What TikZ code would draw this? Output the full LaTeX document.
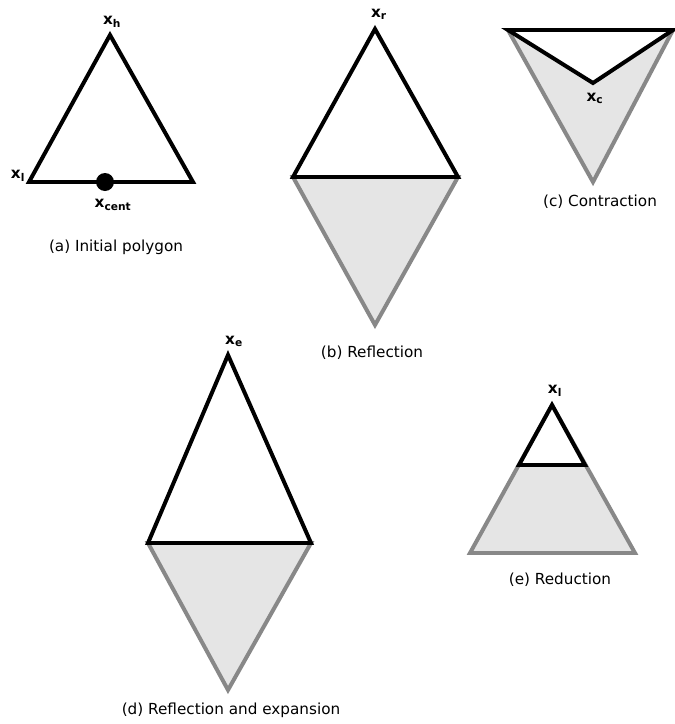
\documentclass[tikz,border=0pt]{standalone}
\usepackage{fontspec}
\setmainfont{DejaVu Sans}
\usetikzlibrary{positioning}

\definecolor{shade}{RGB}{229,229,229}
\definecolor{edgegray}{RGB}{136,136,136}

\tikzset{
  simplex/.style={draw=black,fill=white,line width=3.4pt,line join=miter},
  oldsimplex/.style={draw=edgegray,fill=shade,line width=3.4pt,line join=miter},
  vlabel/.style={font=\fontsize{13}{14}\selectfont\bfseries,inner sep=1pt},
  caption/.style={font=\fontsize{13}{15}\selectfont}
}
\newcommand{\vx}[1]{x\textsubscript{#1}}

\begin{document}
\begin{tikzpicture}[x=0.03cm,y=-0.03cm]
\useasboundingbox (0,0) rectangle (675,724);

% (a) initial polygon
\draw[simplex] (110,35) -- (29,182) -- (193,182) -- cycle;
\fill[black] (105,182) circle (9);
\node[vlabel] (xh) at (112,22) {\vx{h}};
\node[vlabel] (xl) at (18,176) {\vx{l}};
\node[vlabel] (xcent) at (113,205) {\vx{cent}};
\node[caption] (capa) at (116,247) {(a) Initial polygon};

% (b) reflection
\draw[oldsimplex] (293,177) -- (458,177) -- (375,325) -- cycle;
\draw[simplex] (375,29) -- (293,177) -- (458,177) -- cycle;
\node[vlabel] (xr) at (379,14) {\vx{r}};
\node[caption] (capb) at (372,353) {(b) Reflection};

% (c) contraction
\draw[oldsimplex] (508,30) -- (673,30) -- (593,182) -- cycle;
\draw[simplex] (508,30) -- (673,30) -- (593,83) -- cycle;
\node[vlabel] (xc) at (595,98) {\vx{c}};
\node[caption] (capc) at (600,202) {(c) Contraction};

% (d) reflection and expansion
\draw[oldsimplex] (148,543) -- (311,543) -- (228,690) -- cycle;
\draw[simplex] (228,355) -- (148,543) -- (311,543) -- cycle;
\node[vlabel] (xe) at (234,341) {\vx{e}};
\node[caption] (capd) at (231,710) {(d) Reflection and expansion};

% (e) reduction
\draw[oldsimplex] (552,405) -- (470,553) -- (635,553) -- cycle;
\draw[simplex] (552,405) -- (519,465) -- (585,465) -- cycle;
\node[vlabel] (xl2) at (555,391) {\vx{l}};
\node[caption] (cape) at (560,580) {(e) Reduction};

\end{tikzpicture}
\end{document}
